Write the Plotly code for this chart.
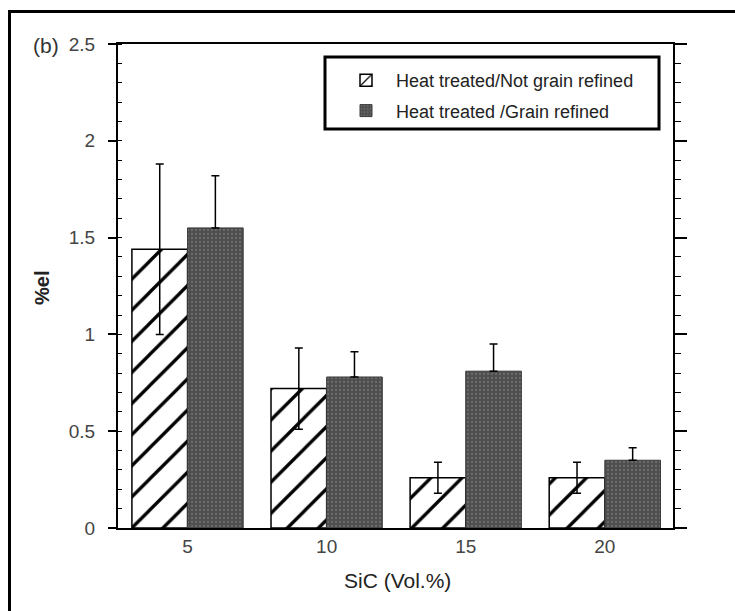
import plotly.graph_objects as go

# ---- data ----
sic_vol = [5, 10, 15, 20]
el_not_refined = [1.44, 0.72, 0.26, 0.26]
err_not_refined = [0.44, 0.21, 0.08, 0.08]
el_refined = [1.55, 0.78, 0.81, 0.35]
err_refined = [0.27, 0.13, 0.14, 0.065]
err_refined_lower = [0, 0, 0, 0]   # lower half hidden behind the dark bars in the source
series_names = ["Heat treated/Not grain refined", "Heat treated /Grain refined"]
y_ticks = [0, 0.5, 1, 1.5, 2, 2.5]
y_tick_text = ["0", "0.5", "1", "1.5", "2", "2.5"]

FONT = "Liberation Sans, Arial, sans-serif"
W, H = 735, 611
L, R, T, B = 118, 62, 44, 83
pw, ph = W - L - R, H - T - B

def px_x(p):
    return (p - L) / pw

def px_y(p):
    return (H - B - p) / ph

fig = go.Figure()

fig.add_trace(go.Bar(
    x=sic_vol, y=el_not_refined, name=series_names[0],
    width=2, offset=-2,
    marker=dict(color="white", line=dict(color="black", width=1.5),
                pattern=dict(shape="/", fgcolor="black", bgcolor="white",
                             fgopacity=1, size=22, solidity=0.15)),
    error_y=dict(type="data", array=err_not_refined, visible=True,
                 color="black", thickness=1.5, width=4),
    legendgroup="a",
))
fig.add_trace(go.Bar(
    x=sic_vol, y=el_refined, name=series_names[1],
    width=2, offset=0,
    marker=dict(color="#555555", line=dict(color="#3a3a3a", width=1),
                pattern=dict(shape=".", fgcolor="#8a8a8a", bgcolor="#4e4e4e",
                             size=4, solidity=0.25)),
    error_y=dict(type="data", symmetric=False, array=err_refined,
                 arrayminus=err_refined_lower, visible=True,
                 color="black", thickness=1.5, width=4),
    legendgroup="b",
))
# helper trace so the right-hand axis is drawn
fig.add_trace(go.Scatter(x=[], y=[], yaxis="y2", showlegend=False, hoverinfo="skip"))

fig.update_layout(
    width=W, height=H,
    margin=dict(l=L, r=R, t=T, b=B),
    paper_bgcolor="white", plot_bgcolor="white",
    font=dict(family=FONT, color="#333333", size=19),
    barmode="overlay",
    showlegend=True,
    legend=dict(
        x=px_x(336), xanchor="left", y=px_y(62), yanchor="top",
        bgcolor="rgba(0,0,0,0)", borderwidth=0,
        font=dict(family=FONT, size=18, color="#222222"),
        tracegroupgap=4, traceorder="grouped", itemwidth=50,
    ),
    xaxis=dict(
        range=[2.5, 22.45], tickvals=sic_vol, ticktext=[str(v) for v in sic_vol],
        ticks="", showline=True, linecolor="black", linewidth=2, mirror=True,
        showgrid=False, zeroline=False, tickfont=dict(size=19, color="#444444"),
    ),
    yaxis=dict(
        range=[0, 2.5], tickvals=y_ticks, ticktext=y_tick_text,
        ticks="outside", ticklen=8, tickwidth=1.5, tickcolor="black",
        minor=dict(dtick=0.1, ticks="inside", ticklen=4, tickcolor="black", tickwidth=1),
        showline=True, linecolor="black", linewidth=2,
        showgrid=False, zeroline=False, ticklabelstandoff=9,
        tickfont=dict(size=19, color="#444444"),
    ),
    yaxis2=dict(
        range=[0, 2.5], overlaying="y", side="right", tickvals=y_ticks,
        showticklabels=False, ticks="outside", ticklen=12, tickwidth=1.5, tickcolor="black",
        minor=dict(dtick=0.1, ticks="outside", ticklen=6, tickcolor="black", tickwidth=1),
        showline=True, linecolor="black", linewidth=2, showgrid=False, zeroline=False,
    ),
)

# legend frame
fig.add_shape(type="rect", xref="paper", yref="paper",
              x0=px_x(325), x1=px_x(659), y0=px_y(129), y1=px_y(57),
              line=dict(color="black", width=3), fillcolor="white", layer="above")

# axis titles and panel label
fig.add_annotation(text="<b>%el</b>", x=px_x(42), y=px_y(288), xref="paper", yref="paper",
                   xanchor="center", yanchor="middle", textangle=-90, showarrow=False,
                   font=dict(family=FONT, size=20, color="#222222"))
fig.add_annotation(text="SiC (Vol.%)", x=px_x(397), y=px_y(580), xref="paper", yref="paper",
                   xanchor="center", yanchor="middle",
                   showarrow=False, font=dict(family=FONT, size=21, color="#222222"))
fig.add_annotation(text="(b)", x=px_x(46), y=px_y(46), xref="paper", yref="paper",
                   xanchor="center", yanchor="middle",
                   showarrow=False, font=dict(family=FONT, size=21, color="#333333"))

# outer frame (left and top edges of the scanned figure)
x0, y0 = px_x(9.5), px_y(11.5)
fig.add_shape(type="path", xref="paper", yref="paper",
              path=f"M {x0} {px_y(615)} L {x0} {y0} L {px_x(740)} {y0}",
              line=dict(color="black", width=3))

fig.write_html("out.html", config={"displayModeBar": False},
               post_script="document.body.style.margin='0';")
